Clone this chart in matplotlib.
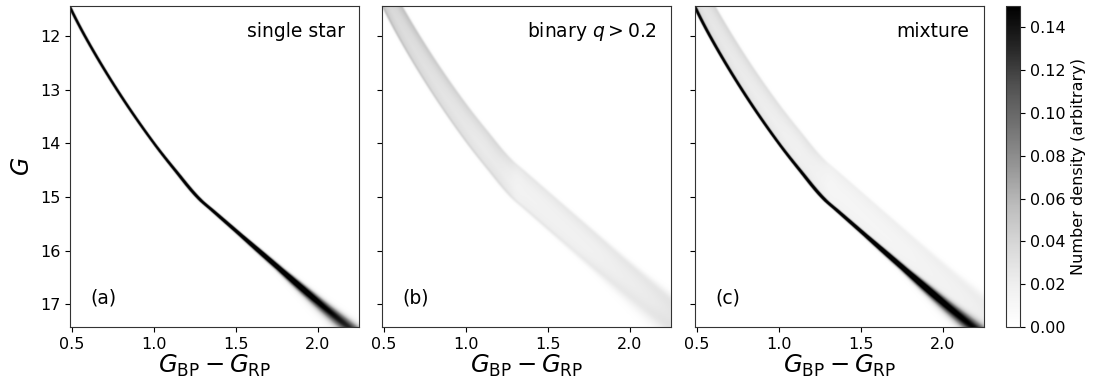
import numpy as np
import matplotlib
matplotlib.use("Agg")
import matplotlib.pyplot as plt

# ---- data ----
# single-star ridge line (colour vs magnitude)
ridge_G = [11.0, 11.56, 12.0, 13.0, 14.0, 14.5, 15.05, 15.25, 16.35, 17.02, 17.45, 18.3]
ridge_c = [0.42, 0.505, 0.58, 0.775, 1.0, 1.128, 1.28, 1.355, 1.767, 2.02, 2.19, 2.52]
# photometric spread (colour units) along the sequence
sig_G = [11.0, 14.0, 15.0, 15.7, 16.35, 16.9, 17.45, 18.3]
sig_c = [0.0055, 0.006, 0.008, 0.011, 0.018, 0.033, 0.052, 0.08]
# peak density of the single-star sequence
amp_s_G = [11.0, 15.0, 16.0, 16.5, 17.0, 17.45]
amp_s = [0.35, 0.35, 0.30, 0.22, 0.16, 0.13]
# binary band: magnitude offsets above the single sequence and their weights
bin_d = [0.0, 0.03, 0.08, 0.3, 0.5, 0.66, 0.73, 0.77]
bin_w = [0.0, 1.0, 0.55, 0.45, 0.5, 0.65, 0.8, 0.0]
amp_b_G = [11.0, 15.0, 16.0, 16.5, 17.0, 17.45]
amp_b = [0.034, 0.032, 0.034, 0.04, 0.048, 0.06]
# mixture weights
frac_single = 1.0
frac_binary = 0.75

titles = ["single star", r"binary $q > 0.2$", "mixture"]
labels = ["(a)", "(b)", "(c)"]
xlim = (0.49, 2.25)
ylim = (17.42, 11.44)
xticks = [0.5, 1.0, 1.5, 2.0]
yticks = [12, 13, 14, 15, 16, 17]
cbar_ticks = [0.0, 0.02, 0.04, 0.06, 0.08, 0.10, 0.12, 0.14]
vmax = 0.15


def pchip(x, y, xn):
    """Monotone cubic interpolation through the read points."""
    x = np.asarray(x, float)
    y = np.asarray(y, float)
    h = np.diff(x)
    delta = np.diff(y) / h
    m = np.zeros_like(y)
    for k in range(1, len(x) - 1):
        if delta[k - 1] * delta[k] > 0:
            w1 = 2 * h[k] + h[k - 1]
            w2 = h[k] + 2 * h[k - 1]
            m[k] = (w1 + w2) / (w1 / delta[k - 1] + w2 / delta[k])
    m[0] = delta[0]
    m[-1] = delta[-1]
    xn = np.clip(xn, x[0], x[-1])
    idx = np.clip(np.searchsorted(x, xn) - 1, 0, len(x) - 2)
    t = (xn - x[idx]) / h[idx]
    h00 = 2 * t**3 - 3 * t**2 + 1
    h10 = t**3 - 2 * t**2 + t
    h01 = -2 * t**3 + 3 * t**2
    h11 = t**3 - t**2
    return h00 * y[idx] + h10 * h[idx] * m[idx] + h01 * y[idx + 1] + h11 * h[idx] * m[idx + 1]


# ---- density model ----
nc, ng = 700, 700
cc = np.linspace(xlim[0], xlim[1], nc)
gg = np.linspace(ylim[1], ylim[0], ng)
C, Gm = np.meshgrid(cc, gg)


def ridge(g):
    return pchip(ridge_G, ridge_c, g)


sig = np.interp(Gm, sig_G, sig_c)
single = np.interp(Gm, amp_s_G, amp_s) * np.exp(-0.5 * ((C - ridge(Gm)) / sig) ** 2)

dd = np.linspace(0.0, 0.77, 200)
step = dd[1] - dd[0]
ww = np.interp(dd, bin_d, bin_w)
binary = np.zeros_like(C)
for d, w in zip(dd, ww):
    binary += w * step * np.exp(-0.5 * ((C - ridge(Gm + d)) / sig) ** 2) / (sig * np.sqrt(2 * np.pi))
# band interior ~ w / (dc/dG); bring to the read density scale
binary = binary * 0.25 * np.interp(Gm, amp_b_G, amp_b) / 0.6
mixture = frac_single * single + frac_binary * binary

images = [single, binary, mixture]

# ---- figure ----
fig = plt.figure(figsize=(10.93, 3.86), dpi=100)
lefts = [70 / 1093, 382 / 1093, 695 / 1093]
bottom = 1 - 327 / 386
height = (327 - 6) / 386
width = 289 / 1093

for i, img in enumerate(images):
    ax = fig.add_axes([lefts[i], bottom, width, height])
    im = ax.imshow(img, origin="lower", extent=[xlim[0], xlim[1], ylim[1], ylim[0]],
                   cmap="Greys", vmin=0, vmax=vmax, aspect="auto", interpolation="bilinear")
    ax.set_xlim(*xlim)
    ax.set_ylim(*ylim)
    ax.set_xticks(xticks)
    ax.set_yticks(yticks)
    ax.tick_params(labelsize=11.5)
    for s in ax.spines.values():
        s.set_color("#333333")
    if i == 0:
        ax.set_ylabel(r"$G$", fontsize=17)
    else:
        ax.set_yticklabels([])
    ax.set_xlabel(r"$G_\mathrm{BP} - G_\mathrm{RP}$", fontsize=17.5, labelpad=1)
    ax.text(0.95, 0.922, titles[i], transform=ax.transAxes, ha="right", va="center", fontsize=13.5)
    ax.text(0.07, 0.09, labels[i], transform=ax.transAxes, ha="left", va="center", fontsize=13.5)

cax = fig.add_axes([1006 / 1093, bottom, 14 / 1093, height])
cb = fig.colorbar(im, cax=cax, ticks=cbar_ticks)
cb.ax.set_yticklabels([f"{t:.2f}" for t in cbar_ticks])
cb.ax.tick_params(labelsize=11.5)
cb.set_label("Number density (arbitrary)", fontsize=11.5)
cb.outline.set_edgecolor("#333333")

fig.savefig("out.png", dpi=100)
